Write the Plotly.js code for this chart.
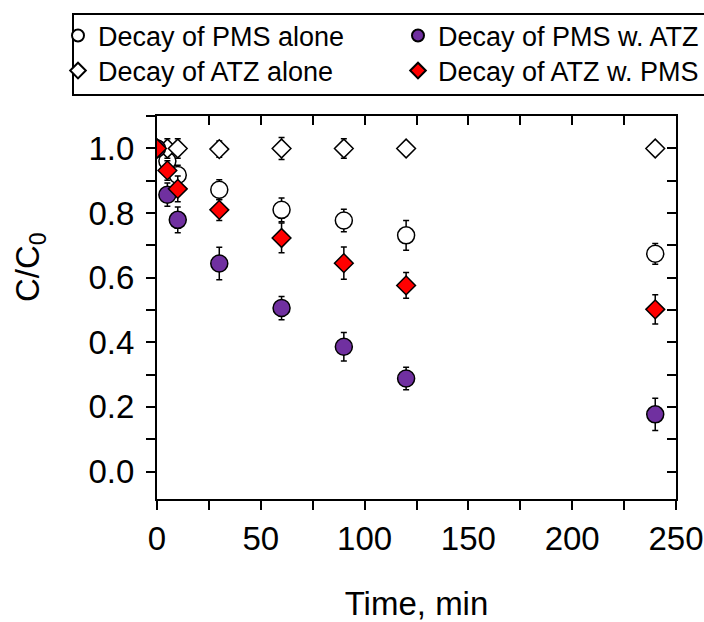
<!DOCTYPE html>
<html><head><meta charset="utf-8">
<script src="https://cdn.plot.ly/plotly-3.0.1.min.js"></script>
<style>html,body{margin:0;padding:0;background:#fff;} #chart{width:704px;height:622px;}</style>
</head><body><div id="chart"></div>
<script>
// ---- data ----
const time = [0, 5, 10, 30, 60, 90, 120, 240];
const pmsAlone = [1.0, 0.961, 0.918, 0.872, 0.810, 0.777, 0.731, 0.674];
const pmsAloneErr = [0.01, 0.02, 0.03, 0.031, 0.037, 0.035, 0.046, 0.032];
const atzAlone = [1.0, 1.0, 1.0, 0.998, 1.0, 1.0, 1.0, 1.0];
const atzAloneErr = [0.01, 0.03, 0.03, 0.025, 0.034, 0.03, 0.02, 0.01];
const pmsWithAtz = [1.0, 0.857, 0.779, 0.644, 0.506, 0.386, 0.288, 0.177];
const pmsWithAtzErr = [0.01, 0.036, 0.04, 0.05, 0.036, 0.044, 0.035, 0.05];
const atzWithPms = [1.0, 0.932, 0.875, 0.810, 0.723, 0.645, 0.576, 0.502];
const atzWithPmsErr = [0.01, 0.03, 0.04, 0.033, 0.046, 0.05, 0.04, 0.045];
const seriesNames = ['Decay of PMS alone', 'Decay of ATZ alone', 'Decay of PMS w. ATZ', 'Decay of ATZ w. PMS'];
const xTitle = 'Time, min';
const yTitle = 'C/C<sub>0</sub>';

const FONT = 'Liberation Sans, Arial, Helvetica, sans-serif';
const purple = '#7030A0';
const red = '#FF0000';

function errY(arr) {
  return {type: 'data', array: arr, visible: true, color: '#000', thickness: 1.5, width: 3};
}

const traces = [
  {x: time, y: pmsAlone, error_y: errY(pmsAloneErr), name: seriesNames[0], mode: 'markers', type: 'scatter',
   marker: {symbol: 'circle', size: 17, color: '#fff', line: {color: '#000', width: 1.5}}, legend: 'legend'},
  {x: time, y: atzAlone, error_y: errY(atzAloneErr), name: seriesNames[1], mode: 'markers', type: 'scatter',
   marker: {symbol: 'diamond', size: 14.4, color: '#fff', line: {color: '#000', width: 1.5}}, legend: 'legend3'},
  {x: time, y: pmsWithAtz, error_y: errY(pmsWithAtzErr), name: seriesNames[2], mode: 'markers', type: 'scatter',
   marker: {symbol: 'circle', size: 17, color: purple, line: {color: '#000', width: 1.5}}, legend: 'legend2'},
  {x: time, y: atzWithPms, error_y: errY(atzWithPmsErr), name: seriesNames[3], mode: 'markers', type: 'scatter',
   marker: {symbol: 'diamond', size: 14.4, color: red, line: {color: '#000', width: 1.5}}, legend: 'legend4'},
  {x: [], y: [], xaxis: 'x2', yaxis: 'y2', showlegend: false, hoverinfo: 'skip', type: 'scatter', mode: 'markers'}
];

const legFont = {family: FONT, size: 27, color: '#000'};
function leg(x, y) {
  return {x: x, y: y, xref: 'container', yref: 'container', xanchor: 'left', yanchor: 'middle',
          font: legFont, bgcolor: 'rgba(0,0,0,0)', borderwidth: 0, itemsizing: 'constant', itemwidth: 30};
}

const tickFont = {family: FONT, size: 33, color: '#000'};
const layout = {
  width: 704, height: 622,
  margin: {l: 157, r: 28, t: 116, b: 123, pad: 0, autoexpand: false},
  paper_bgcolor: '#fff', plot_bgcolor: '#fff',
  font: {family: FONT, color: '#000'},
  showlegend: true,
  legend: leg(58 / 704, 1 - 36 / 622),
  legend2: leg(398 / 704, 1 - 36 / 622),
  legend3: leg(58 / 704, 1 - 71 / 622),
  legend4: leg(398 / 704, 1 - 71 / 622),
  xaxis: {
    range: [0, 250], showline: true, linecolor: '#000', linewidth: 2, zeroline: false, showgrid: false,
    ticks: 'outside', ticklen: 9, tickwidth: 2, tickcolor: '#000', dtick: 50, tick0: 0,
    minor: {dtick: 25, tick0: 0, ticks: 'outside', ticklen: 9, tickwidth: 2, tickcolor: '#000', showgrid: false},
    tickfont: tickFont, automargin: false,
    title: {text: xTitle, font: {family: FONT, size: 33, color: '#000'}, standoff: 37}
  },
  yaxis: {
    range: [-0.085, 1.1005], showline: true, linecolor: '#000', linewidth: 2, zeroline: false, showgrid: false,
    ticks: 'outside', ticklen: 9, tickwidth: 2, tickcolor: '#000', dtick: 0.2, tick0: 0, tickformat: '.1f',
    minor: {dtick: 0.1, tick0: 0, ticks: 'outside', ticklen: 9, tickwidth: 2, tickcolor: '#000', showgrid: false},
    tickfont: tickFont, automargin: false, ticklabelstandoff: 5
  },
  xaxis2: {
    overlaying: 'x', side: 'top', anchor: 'y', range: [0, 250], showline: true, linecolor: '#000', linewidth: 2,
    zeroline: false, showgrid: false, ticks: 'inside', ticklen: 9, tickwidth: 2, tickcolor: '#000',
    dtick: 25, tick0: 0, showticklabels: false
  },
  yaxis2: {
    overlaying: 'y', side: 'right', anchor: 'x', range: [-0.085, 1.1005], showline: true, linecolor: '#000', linewidth: 2,
    zeroline: false, showgrid: false, ticks: 'inside', ticklen: 9, tickwidth: 2, tickcolor: '#000',
    dtick: 0.1, tick0: 0, showticklabels: false
  },
  annotations: [
    {text: yTitle, xref: 'paper', yref: 'paper', x: (30 - 157) / 519, y: (499 - 267) / 383,
     xanchor: 'center', yanchor: 'middle', textangle: -90, showarrow: false,
     font: {family: FONT, size: 33, color: '#000'}}
  ],
  shapes: [
    {type: 'rect', xref: 'paper', yref: 'paper', x0: (73 - 157) / 519, x1: (730 - 157) / 519,
     y0: (499 - 95) / 383, y1: (499 - 14) / 383, line: {color: '#000', width: 2}, fillcolor: 'rgba(0,0,0,0)', layer: 'above'}
  ]
};

Plotly.newPlot('chart', traces, layout, {displayModeBar: false, staticPlot: true});
</script>
</body></html>
